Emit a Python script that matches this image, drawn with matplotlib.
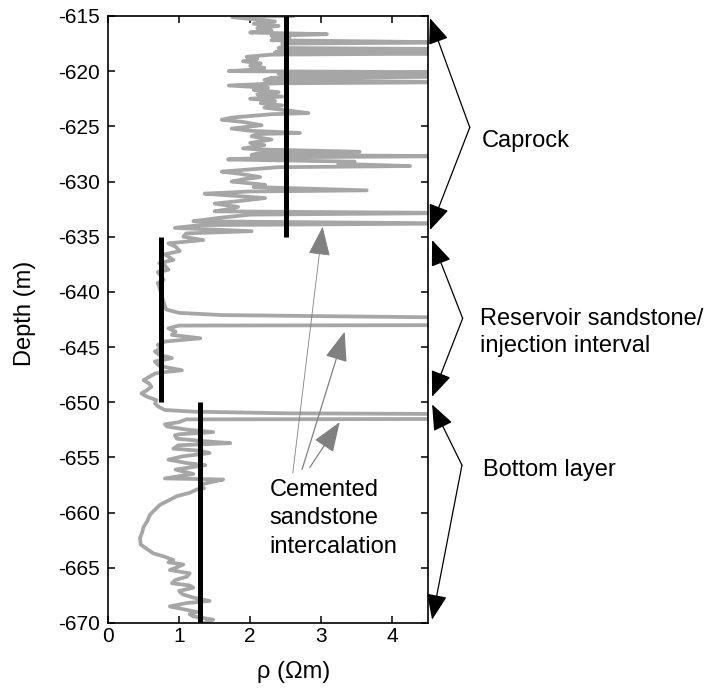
"""Resistivity log with layer annotations"""
import matplotlib
matplotlib.use('Agg')
import matplotlib.pyplot as plt

plt.rcParams["font.family"] = "Liberation Sans"
plt.rcParams["axes.unicode_minus"] = False

# depth below datum (m) and resistivity (Ohm m); values > 4.5 run off the axis
depth = [615.0, 615.1, 615.3, 615.5, 615.7, 615.9, 616.1, 616.3, 616.5, 616.65,
         616.8, 617.0, 617.2, 617.4, 617.5, 617.7, 617.9, 618.0, 618.15, 618.3,
         618.4, 618.5, 618.7, 618.9, 619.1, 619.3, 619.5, 619.7, 619.9, 620.0,
         620.1, 620.25, 620.5, 620.6, 620.8, 621.0, 621.1, 621.3, 621.5, 621.7,
         621.9, 622.1, 622.3, 622.5, 622.7, 622.9, 623.1, 623.3, 623.5, 623.8,
         623.9, 624.2, 624.4, 624.6, 624.9, 625.2, 625.4, 625.6, 625.7, 625.9,
         626.2, 626.5, 626.7, 627.0, 627.1, 627.3, 627.45, 627.6, 627.7, 627.8,
         628.0, 628.2, 628.4, 628.6, 628.7, 629.1, 629.3, 629.6, 629.8, 630.0,
         630.3, 630.5, 630.8, 630.9, 631.1, 631.3, 631.5, 631.8, 632.0, 632.3,
         632.5, 632.7, 632.85, 633.0, 633.3, 633.6, 633.8, 633.95, 634.2, 634.5,
         634.7, 635.0, 635.3, 635.6, 635.9, 636.3, 636.6, 637.1, 637.4, 637.6,
         638.0, 638.2, 638.5, 638.9, 639.2, 639.5, 640.0, 640.4, 640.9, 641.3,
         641.6, 641.9, 642.1, 642.4, 643.0, 643.05, 643.3, 643.6, 643.9, 644.2,
         644.5, 644.8, 645.1, 645.4, 645.7, 646.0, 646.3, 646.7, 647.1, 647.3,
         647.4, 647.7, 648.0, 648.3, 648.6, 648.9, 649.2, 649.5, 649.8, 650.1,
         650.4, 650.7, 650.85, 651.0, 651.1, 651.5, 651.55, 651.8, 652.0, 652.2,
         652.5, 652.7, 652.9, 653.0, 653.3, 653.5, 653.7, 653.9, 654.2, 654.4,
         654.6, 654.9, 655.2, 655.5, 655.7, 656.1, 656.5, 656.9, 657.0, 657.3,
         657.5, 657.8, 657.9, 658.2, 658.5, 658.9, 659.3, 659.8, 660.2, 660.8,
         661.3, 661.8, 662.3, 662.9, 663.3, 663.7, 664.0, 664.3, 664.5, 664.7,
         665.0, 665.2, 665.5, 665.8, 666.1, 666.4, 666.6, 666.8, 667.1, 667.4,
         667.7, 668.0, 668.2, 668.5, 668.8, 669.0, 669.2, 669.4, 669.7, 670.0]
rho = [2.60, 1.75, 2.05, 2.35, 2.05, 2.40, 2.10, 2.30, 2.00, 3.08,
       2.30, 2.55, 2.30, 5.00, 2.45, 2.50, 2.40, 5.00, 2.45, 2.35,
       5.00, 2.30, 1.95, 2.10, 1.90, 2.15, 2.00, 2.20, 1.95, 1.70,
       5.00, 2.40, 5.00, 2.30, 2.20, 5.00, 2.40, 1.70, 2.25, 2.05,
       2.40, 2.10, 2.45, 2.00, 2.35, 2.15, 2.45, 2.20, 2.45, 2.82,
       2.30, 1.75, 1.60, 1.90, 2.16, 1.74, 2.00, 2.70, 2.10, 2.02,
       2.30, 2.00, 2.20, 1.90, 2.15, 3.54, 2.10, 2.02, 5.00, 2.40,
       1.69, 3.47, 3.24, 4.25, 2.40, 1.60, 1.85, 2.14, 1.90, 1.74,
       2.21, 2.05, 3.64, 2.00, 1.36, 1.80, 2.21, 1.80, 1.50, 1.83,
       1.70, 1.50, 5.00, 2.00, 1.55, 1.20, 5.00, 1.30, 0.94, 2.02,
       1.10, 1.06, 1.34, 0.85, 0.95, 1.01, 0.80, 0.92, 0.72, 0.80,
       0.85, 0.70, 0.74, 0.78, 0.70, 0.72, 0.74, 0.76, 0.78, 0.80,
       0.82, 1.00, 1.60, 6.00, 6.00, 1.00, 0.85, 0.95, 0.90, 1.30,
       0.80, 0.70, 0.75, 0.66, 0.72, 0.90, 0.66, 0.72, 1.04, 0.75,
       0.66, 0.58, 0.50, 0.58, 0.61, 0.55, 0.47, 0.55, 0.68, 0.66,
       0.71, 0.80, 1.20, 2.50, 6.00, 6.00, 1.10, 1.00, 0.80, 0.83,
       1.13, 1.48, 1.00, 0.94, 0.97, 1.30, 1.72, 0.99, 0.92, 1.30,
       1.43, 1.05, 0.85, 1.10, 1.37, 0.95, 1.20, 0.80, 1.62, 1.40,
       1.29, 1.35, 1.25, 1.15, 0.97, 0.85, 0.73, 0.65, 0.59, 0.55,
       0.50, 0.48, 0.45, 0.46, 0.55, 0.64, 0.80, 0.92, 0.85, 1.06,
       0.95, 0.87, 1.15, 1.11, 0.95, 0.90, 1.15, 1.20, 1.00, 1.05,
       1.20, 1.43, 1.10, 0.87, 1.10, 1.25, 1.15, 1.20, 1.48, 1.35]

# mean resistivity per unit: (rho, top, base)
layer_rho = [2.5, 0.75, 1.3]
layer_top = [615, 635, 650]
layer_base = [635, 650, 670]

layer_names = ['Caprock', 'Reservoir sandstone/\ninjection interval', 'Bottom layer']
cemented = [(3.02, 634.1), (3.33, 643.6), (3.26, 651.8)]
cemented_tail = [(2.60, 656.4), (2.73, 656.1), (2.84, 655.9)]

fig = plt.figure(figsize=(7.06, 6.89), dpi=100)
ax = fig.add_axes([0.153, 0.0958, 0.453, 0.881])

ax.plot(rho, [-d for d in depth], color='#a6a6a6', lw=2.7, solid_joinstyle='round')
for r, t, b in zip(layer_rho, layer_top, layer_base):
    ax.plot([r, r], [-t, -b], color='black', lw=3.6, solid_capstyle='butt')

ax.set_xlim(0, 4.5)
ax.set_ylim(-670, -615)
ax.set_xticks([0, 1, 2, 3, 4])
ax.set_yticks(range(-670, -614, 5))
ax.tick_params(direction='in', top=True, right=True, length=5, width=1.1, labelsize=15)
ax.tick_params(axis='x', pad=3)
ax.tick_params(axis='y', pad=6)
for s in ax.spines.values():
    s.set_linewidth(1.2)
ax.set_xlabel('ρ (Ωm)', fontsize=17)
ax.set_ylabel('Depth (m)', fontsize=17)
ax.xaxis.set_label_coords(0.58, -0.062)
ax.yaxis.set_label_coords(-0.225, 0.51)

# brackets on the right: (upper tip, lower tip, vertex, text position)
brackets = [((4.53, 615.2), (4.53, 634.4), (5.09, 625.1), (5.26, 626.3)),
            ((4.56, 635.3), (4.56, 649.5), (4.99, 642.4), (5.24, 643.7)),
            ((4.56, 650.2), (4.56, 669.7), (4.98, 655.7), (5.27, 656.1))]
for name, (tip1, tip2, vert, pos) in zip(layer_names, brackets):
    for tip in (tip1, tip2):
        ax.annotate('', xy=(tip[0], -tip[1]), xytext=(vert[0], -vert[1]),
                    annotation_clip=False,
                    arrowprops=dict(arrowstyle='-|>,head_length=0.8,head_width=0.32',
                                    mutation_scale=20, lw=0.9, color='black',
                                    shrinkA=0, shrinkB=0))
    ax.text(pos[0], -pos[1], name, fontsize=17, ha='left', va='center',
            clip_on=False, linespacing=1.3)

for (hx, hy), (tx, ty), w in zip(cemented, cemented_tail, [0.6, 0.9, 0.9]):
    ax.annotate('', xy=(hx, -hy), xytext=(tx, -ty),
                arrowprops=dict(arrowstyle='-|>,head_length=0.85,head_width=0.32',
                                mutation_scale=22, lw=w, color='#808080',
                                shrinkA=0, shrinkB=0))
ax.text(2.27, -660.5, 'Cemented\nsandstone\nintercalation', fontsize=17,
        ha='left', va='center', linespacing=1.38)

plt.savefig('out.png', dpi=100)
